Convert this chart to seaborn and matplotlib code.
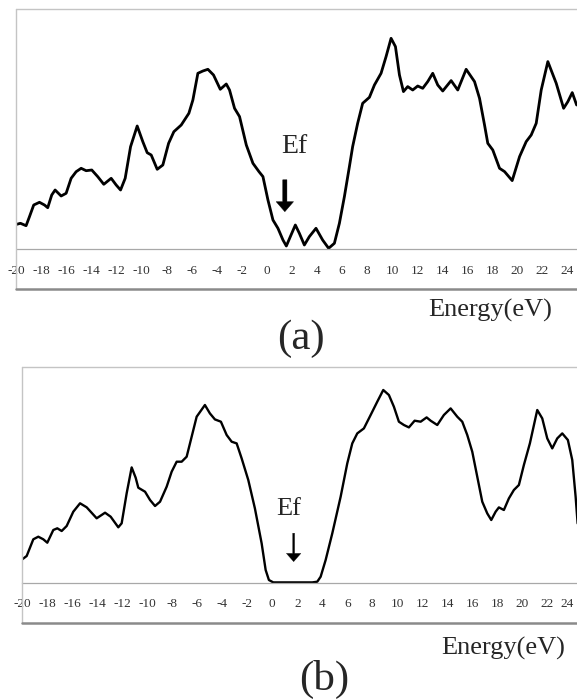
import matplotlib
matplotlib.use("Agg")
import matplotlib.pyplot as plt
from matplotlib.lines import Line2D
import matplotlib.transforms as mtransforms
import seaborn as sns
import pandas as pd

# ---------------- data (DOS in arbitrary units) ----------------
energy_a = [-20.0, -19.7, -19.25, -18.98, -18.64, -18.18, -17.78, -17.52, -17.2, -16.93,
            -16.45, -16.05, -15.65, -15.25, -14.85, -14.45, -14.0, -13.52, -13.04, -12.45,
            -12.05, -11.7, -11.33, -10.9, -10.37, -9.92, -9.57, -9.25, -8.77, -8.32,
            -7.86, -7.44, -6.85, -6.24, -5.92, -5.52, -5.12, -4.72, -4.27, -3.73,
            -3.25, -2.99, -2.59, -2.19, -1.65, -1.12, -0.64, -0.32, 0.08, 0.48,
            0.88, 1.28, 1.55, 1.87, 2.27, 2.59, 2.99, 3.39, 3.92, 4.45,
            4.93, 5.39, 5.79, 6.19, 6.59, 6.85, 7.25, 7.65, 8.19, 8.59,
            9.12, 9.52, 9.92, 10.27, 10.59, 10.91, 11.25, 11.65, 12.05, 12.45,
            12.85, 13.25, 13.65, 14.05, 14.72, 15.25, 15.92, 16.59, 16.99, 17.39,
            17.65, 18.05, 18.59, 18.99, 19.6, 20.19, 20.72, 21.12, 21.52, 21.92,
            22.45, 23.12, 23.71, 24.05, 24.4, 24.75]
dos_a = [25, 26, 23.6, 32.6, 44.3, 47, 44.3, 41.6, 54.3, 59.3,
         53.3, 56, 71, 77.6, 81, 78.6, 79.3, 72.6, 65, 71,
         64.3, 59.3, 71, 102.6, 123.3, 107.6, 96.6, 94.3, 80, 84.3,
         106, 117.6, 124.3, 136, 149.3, 176, 178.3, 180, 174.3, 160,
         165.3, 159.3, 141, 132.7, 104.3, 86, 77.7, 72.7, 49.3, 29.3,
         21, 9.3, 3.3, 12.7, 24.3, 16, 4.3, 12.7, 21, 9.3,
         1, 6, 26, 52.7, 82.7, 102.7, 126, 146, 152, 164.3,
         176, 192.7, 211, 202.7, 174.3, 157.7, 162.7, 159.3, 163.3, 161,
         167.7, 176, 164.3, 158.3, 168.7, 159.3, 180, 167.7, 151, 124.3,
         106, 99.3, 81, 77.7, 68.7, 92.7, 107.7, 114.3, 126, 159.3,
         187.7, 166, 141, 147.7, 156.7, 144.3]

energy_b = [-20.0, -19.65, -19.12, -18.72, -18.32, -18.0, -17.52, -17.2, -16.85, -16.45,
            -15.92, -15.38, -14.85, -14.05, -13.38, -12.93, -12.32, -12.05, -11.65, -11.25,
            -10.93, -10.72, -10.18, -9.78, -9.38, -8.98, -8.45, -8.05, -7.65, -7.25,
            -6.85, -6.45, -6.05, -5.39, -4.99, -4.59, -4.11, -3.65, -3.25, -2.85,
            -2.45, -1.92, -1.39, -0.85, -0.53, -0.27, 0.08, 2.08, 3.2, 3.6,
            3.87, 4.27, 4.8, 5.47, 6.0, 6.4, 6.8, 7.33, 7.87, 8.4,
            8.88, 9.33, 9.73, 10.13, 10.53, 10.93, 11.39, 11.87, 12.35, 12.67,
            13.2, 13.73, 14.27, 14.8, 15.2, 15.6, 16.0, 16.4, 16.8, 17.2,
            17.52, 17.87, 18.13, 18.53, 18.93, 19.33, 19.73, 20.13, 20.61, 21.2,
            21.6, 22.0, 22.4, 22.8, 23.2, 23.65, 24.0, 24.27, 24.43]
dos_b = [23.4, 26.7, 43.4, 46, 43.4, 40, 52.7, 54.4, 51.7, 56.7,
         71, 79.4, 75.4, 64.4, 70, 66, 55.4, 59.4, 89.4, 115.3,
         105, 95, 91, 82.7, 76.7, 81, 96, 111, 121, 121,
         126, 146, 166, 177.7, 169.3, 163.3, 161, 147.7, 141, 139.3,
         124.3, 102.7, 74.3, 39.3, 12.7, 2.7, 0.3, 0.3, 0.3, 1,
         6, 22.7, 49.3, 86, 119.3, 139.3, 149.3, 154.3, 167.7, 181,
         192.7, 187.7, 176, 161, 157.7, 155.3, 162, 161, 165.3, 162,
         157.7, 167.7, 174.3, 166, 161, 147.7, 131, 106, 81, 69.3,
         62.7, 71, 75.3, 72.7, 84.3, 92.7, 97.7, 117.7, 139.3, 172.7,
         164.3, 144.3, 134.3, 144.3, 149.3, 142.7, 122.7, 86, 59.3]

tick_values = list(range(-20, 25, 2))
tick_labels = [str(v) for v in tick_values]

fermi_a = 1.43   # arrow position in panel (a)
fermi_b = 1.71   # arrow position in panel (b)

# ---------------- style ----------------
sns.set_style("white")
plt.rcParams['font.family'] = ['Liberation Serif', 'DejaVu Serif']

W, H = 577, 699
fig = plt.figure(figsize=(W / 100, H / 100), dpi=100)


def fx(x):
    return x / W


def fy(y):
    return 1 - y / H


def frame(left, top, bottom):
    light = '#c4c4c4'
    fig.add_artist(Line2D([fx(left), fx(left)], [fy(top), fy(bottom)], color=light, lw=1.0))
    fig.add_artist(Line2D([fx(left), 1.0], [fy(top), fy(top)], color=light, lw=1.0))
    fig.add_artist(Line2D([fx(left), 1.0], [fy(bottom), fy(bottom)], color='#8a8a8a', lw=1.8))


def panel(rect, xlim, ylim, energy, dos, lw):
    ax = fig.add_axes(rect)
    ax.set_facecolor('none')
    df = pd.DataFrame({'Energy': energy, 'DOS': dos})
    sns.lineplot(data=df, x='Energy', y='DOS', ax=ax, color='black', lw=lw,
                 estimator=None, sort=False, solid_joinstyle='round', solid_capstyle='round')
    ax.set_xlim(*xlim)
    ax.set_ylim(*ylim)
    for s in ['left', 'right', 'top']:
        ax.spines[s].set_visible(False)
    ax.spines['bottom'].set_position(('data', 0))
    ax.spines['bottom'].set_color('#a8a8a8')
    ax.spines['bottom'].set_linewidth(0.9)
    ax.set_xticks(tick_values, tick_labels)
    ax.set_yticks([])
    ax.tick_params(axis='x', direction='in', length=3, width=0.8, color='#a8a8a8',
                   pad=11.0, labelsize=9.5, labelcolor='#333333')
    ax.set_xlabel('')
    ax.set_ylabel('')
    return ax


# panel (a)
frame(16.3, 9, 289)
ax_a = panel([fx(16.7), fy(289), 1 - fx(16.7), 280 / H], (-20, 24.78), (-39.7, 240.3),
             energy_a, dos_a, 2.0)
ax_a.annotate('', xy=(fermi_a, 37.6), xytext=(fermi_a, 69.5),
              arrowprops=dict(arrowstyle='simple,head_length=0.72,head_width=1.25,tail_width=0.3',
                              mutation_scale=10, fc='black', ec='black', lw=0.3,
                              shrinkA=0, shrinkB=0))
ax_a.text(2.17, 102.6, 'Ef', ha='center', va='center', fontsize=20)

# panel (b)
frame(21.7, 367, 623)
ax_b = panel([fx(22.3), fy(623), 1 - fx(22.3), 256 / H], (-20, 24.38), (-40.3, 215.7),
             energy_b, dos_b, 1.7)
ax_b.annotate('', xy=(fermi_b, 21.0), xytext=(fermi_b, 49.5),
              arrowprops=dict(arrowstyle='simple,head_length=0.6,head_width=1.05,tail_width=0.14',
                              mutation_scale=10, fc='black', ec='black', lw=0.2,
                              shrinkA=0, shrinkB=0))
ax_b.text(1.34, 73.7, 'Ef', ha='center', va='center', fontsize=19)

# last tick label of panel (b) sits a little left of its tick in the reference
fig.canvas.draw()
last_lbl = ax_b.get_xticklabels()[-1]
last_lbl.set_transform(last_lbl.get_transform() +
                       mtransforms.ScaledTranslation(-5 / 100, 0, fig.dpi_scale_trans))

# labels
fig.text(fx(490.5), fy(310.5), 'Energy(eV)', ha='center', va='center', fontsize=19)
fig.text(fx(301), fy(339), '(a)', ha='center', va='center', fontsize=31)
fig.text(fx(503), fy(648), 'Energy(eV)', ha='center', va='center', fontsize=19)
fig.text(fx(324), fy(679), '(b)', ha='center', va='center', fontsize=31)

fig.savefig('out.png', dpi=100)
